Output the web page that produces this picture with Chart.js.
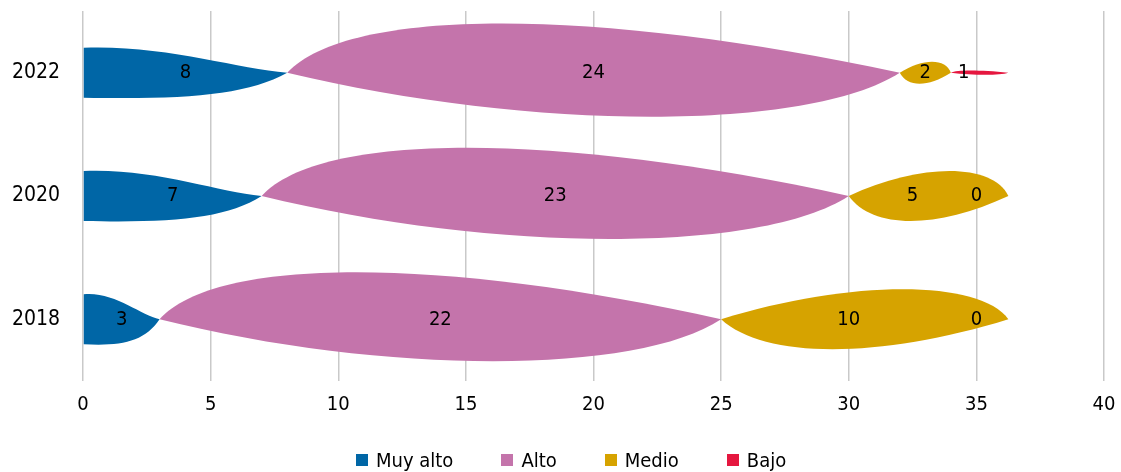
<!DOCTYPE html>
<html>
<head>
<meta charset="utf-8">
<script src="https://cdn.jsdelivr.net/npm/chart.js@4/dist/chart.umd.min.js"></script>
<style>
  html, body { margin: 0; padding: 0; background: #fff; }
  #wrap { position: relative; width: 1121px; height: 472px; }
  #legend { position: absolute; left: 356px; top: 447px; display: flex; align-items: center;
            font-family: 'DejaVu Sans Condensed', 'DejaVu Sans', sans-serif; font-size: 20px; color: #000; line-height: 26px; }
  #legend .item { display: flex; align-items: center; margin-right: 48px; }
  #legend .box { width: 12px; height: 12px; margin-right: 8px; }
</style>
</head>
<body>
<div id="wrap"><canvas id="chart"></canvas><div id="legend"></div></div>
<script>
const years = ['2022', '2020', '2018'];
const muyAlto = [8, 7, 3];
const alto = [24, 23, 22];
const medio = [2, 5, 10];
const bajo = [1, 0, 0];
const xTicks = [0, 5, 10, 15, 20, 25, 30, 35, 40];

const FONT = "'DejaVu Sans Condensed', 'DejaVu Sans', sans-serif";

// draws each stacked segment as a curved "leaf" instead of a rectangle
const blobPlugin = {
    id: 'blobs',
    beforeDatasetDraw() {
        return false; // skip the normal rectangles
    },
    beforeDatasetsDraw(chart) {
        const ctx = chart.ctx;
        const nRows = chart.data.labels.length;
        for (let j = 0; j < nRows; j++) {
            const segs = [];
            chart.data.datasets.forEach((ds, i) => {
                const v = ds.data[j];
                if (!v) return;
                const bar = chart.getDatasetMeta(i).data[j];
                segs.push({ v, i, color: ds.backgroundColor, left: bar.base, right: bar.x, cy: bar.y, h: bar.height });
            });
            segs.forEach((s, k) => {
                const isFirst = k === 0;
                const isLast = k === segs.length - 1;
                const left = s.left;
                const right = isLast ? s.right + 32 : s.right;
                const w = right - left;
                const cy = s.cy;
                const half = s.h / 2;
                ctx.save();
                ctx.fillStyle = s.color;
                ctx.beginPath();
                if (isFirst) {
                    ctx.moveTo(left, cy - half);
                    ctx.bezierCurveTo(left + 0.4 * w, cy - half - 3, left + 0.75 * w, cy - 4, right, cy);
                    ctx.bezierCurveTo(right - 0.2 * w, cy + half * 0.9, left + 0.5 * w, cy + half + 2, left, cy + half);
                    ctx.closePath();
                } else {
                    const amp = Math.min(half + (s.v - 5), 9 * (s.v - 1) + 2) / 0.75;
                    const odd = s.i % 2 === 1;
                    const t = odd ? [0.1, 0.5] : [0.45, 0.9];
                    const b = odd ? [0.4, 0.85] : [0.15, 0.55];
                    const up = odd ? amp * 1.12 : amp;
                    ctx.moveTo(left, cy);
                    ctx.bezierCurveTo(left + t[0] * w, cy - up, left + t[1] * w, cy - up, right, cy);
                    ctx.bezierCurveTo(left + b[1] * w, cy + amp, left + b[0] * w, cy + amp, left, cy);
                    ctx.closePath();
                }
                ctx.fill();
                ctx.restore();
            });
        }
    },
    afterDatasetsDraw(chart) {
        const ctx = chart.ctx;
        ctx.save();
        ctx.fillStyle = '#000';
        ctx.font = '20px ' + FONT;
        ctx.textAlign = 'center';
        ctx.textBaseline = 'middle';
        chart.data.datasets.forEach((ds, i) => {
            chart.getDatasetMeta(i).data.forEach((bar, j) => {
                ctx.fillText(String(ds.data[j]), (bar.base + bar.x) / 2, bar.y);
            });
        });
        ctx.restore();
    }
};

const chart = new Chart(document.getElementById('chart'), {
    type: 'bar',
    data: {
        labels: years,
        datasets: [
            { label: 'Muy alto', data: muyAlto, backgroundColor: '#0066a6' },
            { label: 'Alto', data: alto, backgroundColor: '#c474ab' },
            { label: 'Medio', data: medio, backgroundColor: '#d6a300' },
            { label: 'Bajo', data: bajo, backgroundColor: '#e5173f' }
        ]
    },
    options: {
        indexAxis: 'y',
        responsive: true,
        maintainAspectRatio: false,
        animation: false,
        categoryPercentage: 1,
        barPercentage: 0.405,
        layout: { padding: { top: 11, right: 17, left: 12, bottom: 43 } },
        plugins: {
            legend: { display: false },
            tooltip: { enabled: false }
        },
        scales: {
            x: {
                stacked: true,
                min: 0,
                max: 40,
                afterBuildTicks: (scale) => { scale.ticks = xTicks.map(v => ({ value: v })); },
                afterFit: (scale) => {
                    scale.paddingLeft = 0;
                    scale.paddingRight = 0;
                },
                grid: { color: '#c9c9c9', lineWidth: 1.5, drawTicks: false },
                border: { display: false },
                ticks: { color: '#000', padding: 12, font: { family: FONT, size: 20 } }
            },
            y: {
                stacked: true,
                grid: { display: false, drawTicks: false },
                border: { display: false },
                afterFit: (scale) => {
                    scale.width = 71;
                    scale.paddingTop = 0;
                    scale.paddingBottom = 0;
                },
                ticks: { color: '#000', padding: 0, crossAlign: 'far', font: { family: FONT, size: 21 } }
            }
        }
    },
    plugins: [blobPlugin]
});

// legend as html below the plot
const legendEl = document.getElementById('legend');
chart.data.datasets.forEach(ds => {
    const item = document.createElement('div');
    item.className = 'item';
    const box = document.createElement('span');
    box.className = 'box';
    box.style.background = ds.backgroundColor;
    const txt = document.createElement('span');
    txt.textContent = ds.label;
    item.appendChild(box);
    item.appendChild(txt);
    legendEl.appendChild(item);
});
</script>
</body>
</html>
